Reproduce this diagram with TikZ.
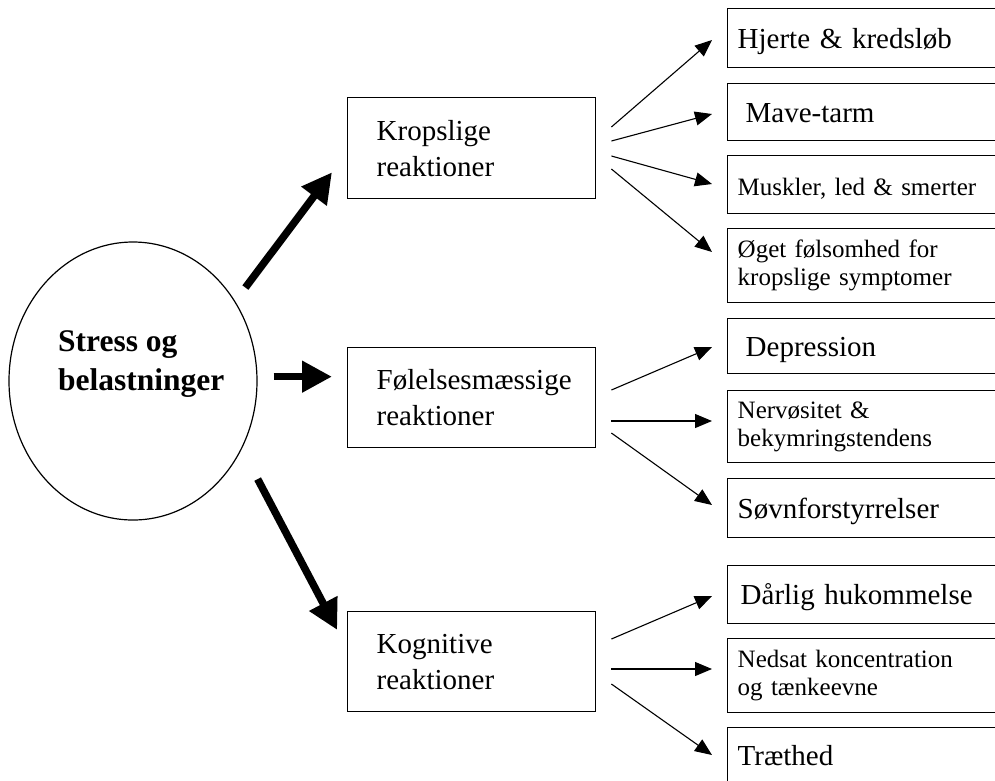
\documentclass[tikz,border=0pt]{standalone}
\usepackage{fontspec}
\setmainfont{Liberation Serif}
\usetikzlibrary{arrows.meta,shapes.geometric,calc}
\begin{document}
\begin{tikzpicture}[x=1pt,y=-1pt,
  bigarrow/.style={line width=7.5pt,-{Triangle[length=30pt,width=30pt]}},
  thinarrow/.style={line width=1.1pt,-{Triangle[length=17pt,width=14pt]}},
  midbox/.style={draw,line width=1.4pt,rectangle,anchor=north west,minimum height=#1,
    text width=190pt,inner xsep=29pt,inner ysep=0pt,align=left,
    font=\fontsize{29}{36}\selectfont},
  rbox/.style={draw,line width=1.4pt,rectangle,anchor=north west,minimum height=#1,
    text width=320pt,inner xsep=10pt,inner ysep=0pt,align=left,
    font=\fontsize{29}{34}\selectfont},
  oneline/.style={text height=20pt,text depth=0pt},
  small/.style={font=\fontsize{25}{28}\selectfont}]
\useasboundingbox (0,0) rectangle (995,780);
\clip (0,0) rectangle (995,780);
\fill[white] (0,0) rectangle (995,780);

% source
\node[draw,ellipse,line width=1.2pt,minimum width=248pt,minimum height=278pt] (stress) at (133,381) {};
\node[anchor=west,align=left,inner sep=0pt,font=\bfseries\fontsize{31.5}{39}\selectfont] (stresstext) at (58,364) {Stress og\\belastninger};

% reaction groups
\node[midbox=101pt] (krop) at (347,97) {Kropslige\\reaktioner};
\node[midbox=100pt] (fel) at (347,347) {Følelsesmæssige\\reaktioner};
\node[midbox=100pt] (kog) at (347,611) {Kognitive\\reaktioner};

% symptoms
\node[rbox=59pt,oneline] (hjerte) at (727,8) {Hjerte \& kredsløb};
\node[rbox=57pt,oneline] (mave) at (727,83) {\hspace*{8pt}Mave-tarm};
\node[rbox=58pt,small,text height=22pt,text depth=0pt] (muskler) at (727,155) {Muskler, led \& smerter};
\node[rbox=74pt,small] (oget) at (727,228) {Øget følsomhed for\\kropslige symptomer};
\node[rbox=55pt,oneline] (depr) at (727,318) {\hspace*{8pt}Depression};
\node[rbox=72pt,small] (nerv) at (727,390) {Nervøsitet \&\\bekymringstendens};
\node[rbox=59pt,oneline] (sovn) at (727,478) {Søvnforstyrrelser};
\node[rbox=58pt,oneline] (darlig) at (727,565) {\hspace*{3pt}Dårlig hukommelse};
\node[rbox=74pt,small] (nedsat) at (727,638) {Nedsat koncentration\\og tænkeevne};
\node[rbox=56pt,oneline] (traet) at (727,727) {Træthed};

% thick arrows from the source
\draw[bigarrow,shorten <=17pt,shorten >=25pt] (stress.38.3) -- ($(krop.north west)!0.54!(krop.south west)$);
\draw[bigarrow,shorten <=16pt,shorten >=15pt] (stress.2.8) -- (stress.2.8 -| fel.west);
\draw[bigarrow,shorten <=34pt,shorten >=21pt] (stress.-32.4) -- ($(kog.north west)!0.37!(kog.south west)$);

% thin arrows to the symptoms
\draw[thinarrow] ($(krop.north east)+(15,30)$) -- ($(hjerte.north west)+(-15,32)$);
\draw[thinarrow] ($(krop.north east)+(15,44)$) -- ($(mave.north west)+(-15,31)$);
\draw[thinarrow] ($(krop.north east)+(15,59)$) -- ($(muskler.north west)+(-15,29)$);
\draw[thinarrow] ($(krop.north east)+(15,72)$) -- ($(oget.north west)+(-15,24)$);

\draw[thinarrow] ($(fel.north east)+(15,43)$) -- ($(depr.north west)+(-15,29)$);
\draw[thinarrow] ($(fel.north east)+(15,74)$) -- ($(nerv.north west)+(-15,31)$);
\draw[thinarrow] ($(fel.north east)+(15,86)$) -- ($(sovn.north west)+(-15,27)$);

\draw[thinarrow] ($(kog.north east)+(15,28)$) -- ($(darlig.north west)+(-15,31)$);
\draw[thinarrow] ($(kog.north east)+(15,58)$) -- ($(nedsat.north west)+(-15,31)$);
\draw[thinarrow] ($(kog.north east)+(15,73)$) -- ($(traet.north west)+(-15,28)$);
\end{tikzpicture}
\end{document}
